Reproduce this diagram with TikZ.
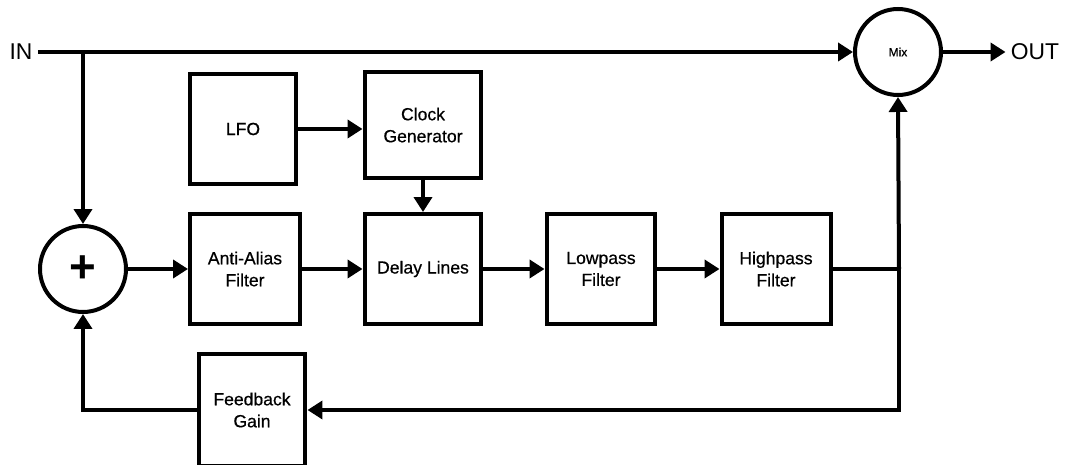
\documentclass[tikz,border=0pt]{standalone}
\usepackage{fontspec}
\setmainfont{Liberation Sans}
\newfontfamily\mediumfont{Liberation Sans}[FakeBold=0.6]
\usetikzlibrary{arrows.meta}

\tikzset{
  block/.style={draw, line width=0.08cm, inner sep=0pt, align=center,
    minimum width=2.2cm, minimum height=2.2cm, font=\mediumfont\fontsize{10}{12.5}\selectfont},
  junction/.style={draw, circle, line width=0.08cm, inner sep=0pt, minimum size=1.72cm},
  port/.style={inner sep=0.1cm, font=\fontsize{13}{15}\selectfont},
  wire/.style={line width=0.08cm},
  signal/.style={wire, -{Triangle[length=0.3cm,width=0.36cm]}},
}

\begin{document}
\begin{tikzpicture}[x=0.02cm, y=-0.02cm]
    \useasboundingbox (0,0) rectangle (1068,465);

    % inputs and outputs
    \node[port] (in) at (21,52) {IN};
    \node[port] (out) at (1035,52) {OUT};

    % summing point and mixer
    \node[junction] (sum) at (83,269) {\fontsize{26}{26}\selectfont\bfseries +};
    \node[junction] (mix) at (898,52) {\mediumfont\fontsize{6.8}{8}\selectfont Mix};

    % blocks
    \node[block, minimum width=2.14cm] (lfo) at (243,129) {LFO};
    \node[block, minimum width=2.34cm, minimum height=2.12cm] (clock) at (423,125) {Clock\\Generator};
    \node[block] (antialias) at (245,269) {Anti-Alias\\Filter};
    \node[block, minimum width=2.34cm] (delay) at (423,269) {Delay Lines};
    \node[block, minimum width=2.18cm, minimum height=2.22cm] (lowpass) at (601,269) {Lowpass\\Filter};
    \node[block, minimum width=2.18cm, minimum height=2.22cm] (highpass) at (776,269) {Highpass\\Filter};
    \node[block, minimum width=2.14cm, minimum height=2.24cm] (feedback) at (252,410) {Feedback\\Gain};

    \coordinate (split) at (83,52);
    \coordinate (tap) at (899,269);

    % dry path
    \draw[signal] (in.east) -- (mix.west);
    \draw[signal] (split) -- (sum.north);
    \draw[signal] (mix.east) -- (out.west);

    % wet path
    \draw[signal] (sum.east) -- (antialias.west);
    \draw[signal] (antialias.east) -- (delay.west);
    \draw[signal] (lfo.east) -- (lfo.east -| clock.west);
    \draw[signal] (clock.south) -- (delay.north);
    \draw[signal] (delay.east) -- (lowpass.west);
    \draw[signal] (lowpass.east) -- (highpass.west);
    \draw[wire] (highpass.east) -- (tap);
    \draw[signal] (tap) -- (mix.south);

    % feedback loop
    \draw[signal] (tap) |- (feedback.east);
    \draw[signal] (feedback.west) -| (sum.south);
\end{tikzpicture}
\end{document}
